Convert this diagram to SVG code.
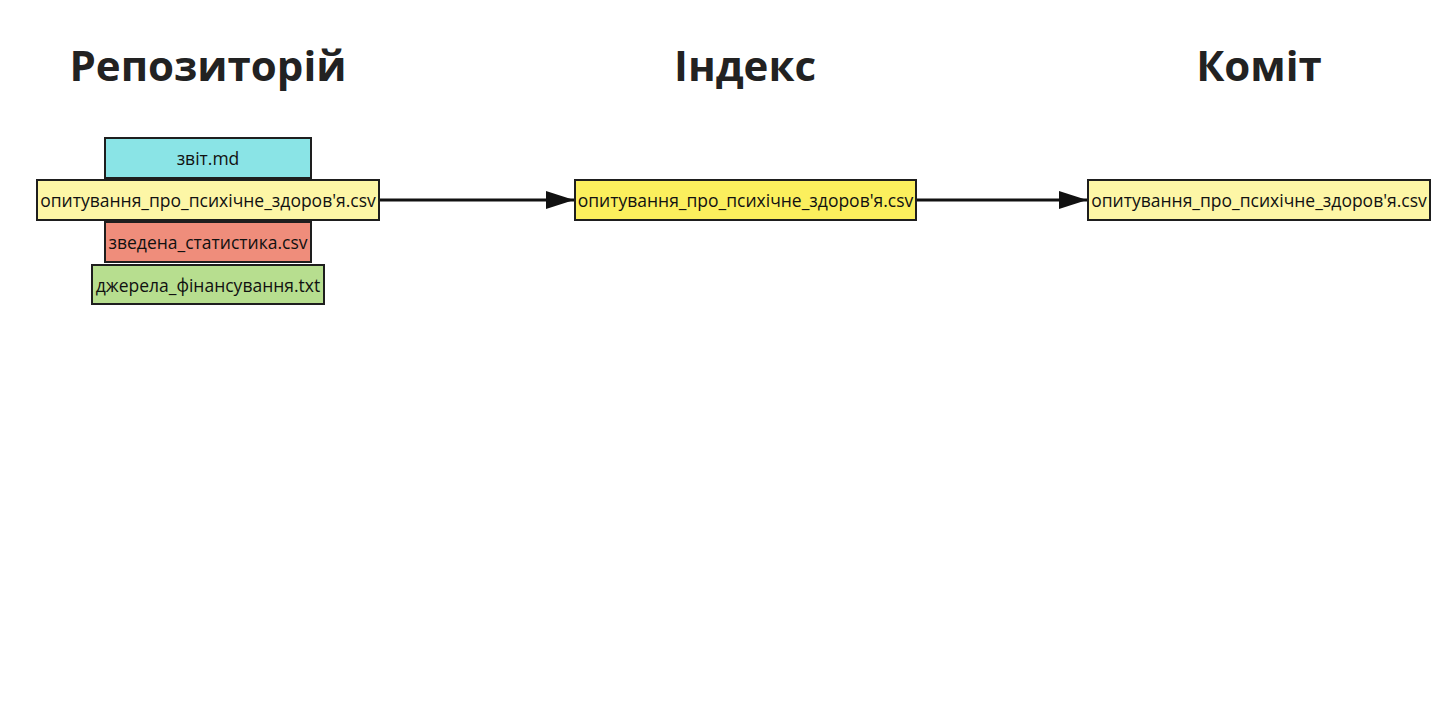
<svg xmlns="http://www.w3.org/2000/svg" width="1439" height="720" viewBox="0 0 1439 720">
<style>
.h{font-family:"Open Sans","Noto Sans",sans-serif;font-weight:700;font-size:42px;fill:#222;text-anchor:middle}
.b{stroke:#1e1e1e;stroke-width:2}
.t{font-family:"Open Sans","Noto Sans",sans-serif;font-size:17.5px;fill:#111;text-anchor:middle;dominant-baseline:central}
.c{stroke:#111;stroke-width:3;fill:none}
</style>
<defs>
<marker id="a" viewBox="0 0 28 18" refX="28" refY="9" markerWidth="28" markerHeight="18" markerUnits="userSpaceOnUse" orient="auto">
<path d="M0,0 L28,9 L0,18 z" fill="#111"/>
</marker>
</defs>
<rect width="1439" height="720" fill="#fff"/>
<g id="headers">
<text class="h" x="208" y="81">Репозиторій</text>
<text class="h" x="745" y="81">Індекс</text>
<text class="h" x="1259" y="81">Коміт</text>
</g>
<g id="node-zvit">
<rect class="b" x="105" y="138" width="206" height="40" fill="#8ae4e6"/>
<text class="t" x="208" y="158">звіт.md</text>
</g>
<g id="node-survey-repo">
<rect class="b" x="37" y="180" width="342" height="40" fill="#fdf6a6"/>
<text class="t" x="208" y="200">опитування_про_психічне_здоров'я.csv</text>
</g>
<g id="node-stats">
<rect class="b" x="105" y="222" width="206" height="40" fill="#ef8d7b"/>
<text class="t" x="208" y="242">зведена_статистика.csv</text>
</g>
<g id="node-funding">
<rect class="b" x="92" y="265" width="232" height="39" fill="#b7de8f"/>
<text class="t" x="208" y="285">джерела_фінансування.txt</text>
</g>
<g id="node-survey-index">
<rect class="b" x="575" y="180" width="341" height="40" fill="#fbef5d"/>
<text class="t" x="745.5" y="200">опитування_про_психічне_здоров'я.csv</text>
</g>
<g id="node-survey-commit">
<rect class="b" x="1088" y="180" width="342" height="40" fill="#fdf6a6"/>
<text class="t" x="1259" y="200">опитування_про_психічне_здоров'я.csv</text>
</g>
<g id="connectors">
<line class="c" x1="380" y1="200" x2="574" y2="200" marker-end="url(#a)"/>
<line class="c" x1="917" y1="200" x2="1087" y2="200" marker-end="url(#a)"/>
</g>
</svg>
